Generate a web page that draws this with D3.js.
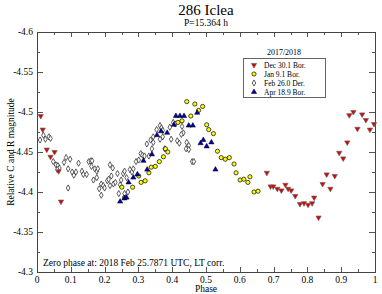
<!doctype html>
<html>
  <head>
    <script src="https://cdn.jsdelivr.net/npm/d3@7"></script>
    <style>
      body { margin: 0; background: #fff; }
      text { font-family: "Liberation Serif", "Times New Roman", Times, serif; fill: #000; }
    </style>
  </head>
  <body>
    <svg id="chart" width="382" height="294"></svg>

    <script>
      // [phase, relative magnitude] for each session
      var dec30 = [
        [0.011,-4.495],[0.017,-4.478],[0.029,-4.453],[0.040,-4.444],[0.052,-4.450],[0.064,-4.426],[0.071,-4.388],
        [0.680,-4.424],[0.691,-4.407],[0.699,-4.407],[0.711,-4.404],[0.723,-4.402],[0.735,-4.409],[0.743,-4.404],
        [0.752,-4.402],[0.764,-4.395],[0.778,-4.385],[0.790,-4.386],[0.802,-4.384],[0.814,-4.386],[0.820,-4.393],
        [0.833,-4.368],[0.845,-4.410],[0.857,-4.422],[0.868,-4.404],[0.881,-4.420],[0.894,-4.449],[0.906,-4.442],
        [0.918,-4.462],[0.924,-4.496],[0.936,-4.500],[0.948,-4.479],[0.962,-4.497],[0.973,-4.490],[0.985,-4.478],
        [0.997,-4.485]
      ];
      var jan9 = [
        [0.251,-4.406],[0.259,-4.393],[0.283,-4.406],[0.301,-4.420],[0.308,-4.412],[0.320,-4.414],[0.331,-4.424],
        [0.338,-4.431],[0.350,-4.432],[0.362,-4.438],[0.374,-4.444],[0.380,-4.454],[0.387,-4.450],[0.417,-4.487],
        [0.429,-4.489],[0.443,-4.513],[0.455,-4.495],[0.467,-4.510],[0.478,-4.502],[0.490,-4.507],[0.502,-4.484],
        [0.508,-4.478],[0.522,-4.473],[0.534,-4.451],[0.545,-4.443],[0.557,-4.441],[0.569,-4.443],[0.583,-4.435],
        [0.589,-4.424],[0.601,-4.415],[0.612,-4.416],[0.624,-4.412],[0.630,-4.419],[0.642,-4.400],[0.654,-4.401]
      ];
      var feb26 = [
        [0.009,-4.465],[0.019,-4.471],[0.025,-4.466],[0.035,-4.469],[0.040,-4.467],
        [0.048,-4.438],[0.056,-4.434],[0.062,-4.433],[0.066,-4.430],[0.060,-4.428],
        [0.080,-4.437],[0.086,-4.443],[0.098,-4.441],[0.092,-4.429],[0.092,-4.405],
        [0.104,-4.425],[0.109,-4.421],[0.115,-4.425],[0.123,-4.436],[0.133,-4.426],[0.137,-4.422],[0.147,-4.422],
        [0.153,-4.438],[0.159,-4.439],[0.163,-4.439],[0.161,-4.432],[0.171,-4.429],[0.177,-4.426],[0.180,-4.429],
        [0.167,-4.415],[0.177,-4.418],[0.184,-4.404],[0.190,-4.410],[0.196,-4.408],[0.200,-4.405],[0.190,-4.396],
        [0.216,-4.434],[0.224,-4.430],[0.208,-4.414],[0.212,-4.416],[0.220,-4.420],[0.216,-4.408],[0.226,-4.410],
        [0.232,-4.412],[0.238,-4.423],[0.242,-4.398],[0.246,-4.409],
        [0.249,-4.415],[0.255,-4.423],[0.259,-4.426],[0.265,-4.418],[0.259,-4.398],[0.269,-4.400],[0.275,-4.428],
        [0.281,-4.425],[0.285,-4.429],[0.293,-4.438],[0.301,-4.440],[0.307,-4.448],[0.312,-4.446],[0.318,-4.445],
        [0.331,-4.445],[0.325,-4.460],[0.340,-4.454],[0.336,-4.465],[0.344,-4.462],[0.344,-4.469],[0.354,-4.478],
        [0.364,-4.483],[0.368,-4.480],[0.372,-4.477],[0.372,-4.469],[0.364,-4.466],[0.378,-4.454],[0.393,-4.481],
        [0.397,-4.466],[0.403,-4.487],[0.409,-4.485],[0.415,-4.464],[0.421,-4.461],[0.429,-4.482],[0.433,-4.474],
        [0.427,-4.472],[0.443,-4.462],[0.449,-4.458],[0.441,-4.454],[0.449,-4.453],[0.459,-4.438],[0.464,-4.438]
      ];
      var apr18 = [
        [0.246,-4.388],[0.259,-4.392],[0.265,-4.393],[0.271,-4.412],[0.285,-4.418],[0.297,-4.422],[0.315,-4.439],
        [0.326,-4.428],[0.340,-4.447],[0.355,-4.471],[0.367,-4.476],[0.385,-4.474],[0.405,-4.484],[0.411,-4.495],
        [0.423,-4.495],[0.435,-4.495],[0.449,-4.483],[0.461,-4.483],[0.474,-4.499],[0.484,-4.461],[0.492,-4.465],
        [0.502,-4.457],[0.516,-4.462],[0.528,-4.428]
      ];

      var legendLabels = ["Dec 30.1 Bor.", "Jan 9.1 Bor.", "Feb 26.0 Der.", "Apr 18.9 Bor."];
      var xTicks = [0, 0.1, 0.2, 0.3, 0.4, 0.5, 0.6, 0.7, 0.8, 0.9, 1];
      var yTicks = [-4.6, -4.55, -4.5, -4.45, -4.4, -4.35, -4.3];

      var svg = d3.select("#chart");
      var pL = 37, pR = 375, pT = 32, pB = 272;

      var x = d3.scaleLinear().domain([0, 1]).range([pL, pR]);
      var y = d3.scaleLinear().domain([-4.6, -4.3]).range([pT, pB]);

      // ticks (inside, on all four sides)
      var ax = svg.append("g").attr("stroke", "#555").attr("stroke-width", 1);
      d3.range(0, 21).forEach(function(i) {
        var v = i * 0.05;
        var len = i % 2 === 0 ? 5 : 3;
        var px = Math.round(x(v)) + 0.5;
        ax.append("line").attr("x1", px).attr("x2", px).attr("y1", pB).attr("y2", pB - len);
        ax.append("line").attr("x1", px).attr("x2", px).attr("y1", pT).attr("y2", pT + len);
      });
      d3.range(0, 13).forEach(function(i) {
        var v = -4.6 + i * 0.025;
        var len = i % 2 === 0 ? 6 : 3;
        var py = Math.round(y(v)) + 0.5;
        ax.append("line").attr("x1", pL).attr("x2", pL + len).attr("y1", py).attr("y2", py);
        ax.append("line").attr("x1", pR).attr("x2", pR - len).attr("y1", py).attr("y2", py);
      });
      svg.append("rect")
        .attr("x", pL + 0.5).attr("y", pT + 0.5)
        .attr("width", pR - pL).attr("height", pB - pT)
        .attr("fill", "none").attr("stroke", "#444").attr("stroke-width", 1);

      svg.append("g").selectAll("text").data(xTicks).enter().append("text")
        .attr("x", function(d) { return x(d); })
        .attr("y", pB + 11)
        .attr("text-anchor", "middle")
        .attr("font-size", 9.5)
        .text(function(d) { return d; });

      svg.append("g").selectAll("text").data(yTicks).enter().append("text")
        .attr("x", pL - 4)
        .attr("y", function(d) { return y(d) + 3; })
        .attr("text-anchor", "end")
        .attr("font-size", 9.5)
        .text(function(d) { return d; });

      // titles
      svg.append("text").attr("x", 206).attr("y", 15).attr("text-anchor", "middle")
        .attr("font-size", 15).text("286 Iclea");
      svg.append("text").attr("x", 206).attr("y", 26).attr("text-anchor", "middle")
        .attr("font-size", 9.5).text("P=15.364 h");
      svg.append("text").attr("x", 206).attr("y", 292).attr("text-anchor", "middle")
        .attr("font-size", 9.5).text("Phase");
      svg.append("text").attr("transform", "translate(14," + ((pT + pB) / 2) + ") rotate(-90)")
        .attr("text-anchor", "middle").attr("font-size", 9.5).text("Relative C and R magnitude");
      svg.append("text").attr("x", 43).attr("y", 266)
        .attr("font-size", 9.5).text("Zero phase at: 2018 Feb 25.7871 UTC, LT corr.");

      // markers
      var tri = d3.symbol().type(d3.symbolTriangle).size(12);
      var diamond = d3.symbol().type(d3.symbolDiamond).size(11);

      var series = [
        { data: feb26, kind: "diamond" },
        { data: jan9, kind: "circle" },
        { data: apr18, kind: "up" },
        { data: dec30, kind: "down" }
      ];

      function drawMarker(g, kind) {
        if (kind === "circle") {
          g.append("circle").attr("r", 2.1).attr("fill", "#ffff00").attr("stroke", "#000").attr("stroke-width", 0.7);
        } else if (kind === "diamond") {
          g.append("path").attr("d", diamond).attr("fill", "#fff").attr("stroke", "#333").attr("stroke-width", 0.8);
        } else if (kind === "up") {
          g.append("path").attr("d", tri).attr("fill", "#0000b0").attr("stroke", "#000").attr("stroke-width", 0.5);
        } else {
          g.append("path").attr("d", tri).attr("transform", "rotate(180)")
            .attr("fill", "#dd0000").attr("stroke", "#666").attr("stroke-width", 0.7);
        }
      }

      series.forEach(function(s) {
        svg.append("g").selectAll("g").data(s.data).enter().append("g")
          .attr("transform", function(d) { return "translate(" + x(d[0]) + "," + y(d[1]) + ")"; })
          .each(function() { drawMarker(d3.select(this), s.kind); });
      });

      // legend
      var lg = svg.append("g");
      lg.append("text").attr("x", 284).attr("y", 55).attr("text-anchor", "middle")
        .attr("font-size", 8).text("2017/2018");
      lg.append("rect").attr("x", 243.5).attr("y", 58.5).attr("width", 82).attr("height", 39)
        .attr("fill", "#fff").attr("stroke", "#666").attr("stroke-width", 1);
      var kinds = ["down", "circle", "diamond", "up"];
      legendLabels.forEach(function(label, i) {
        var ry = 65 + i * 9;
        var g = lg.append("g").attr("transform", "translate(254," + ry + ")");
        drawMarker(g, kinds[i]);
        lg.append("text").attr("x", 264).attr("y", ry + 2.5).attr("font-size", 7.5).text(label);
      });
    </script>
  </body>
</html>
